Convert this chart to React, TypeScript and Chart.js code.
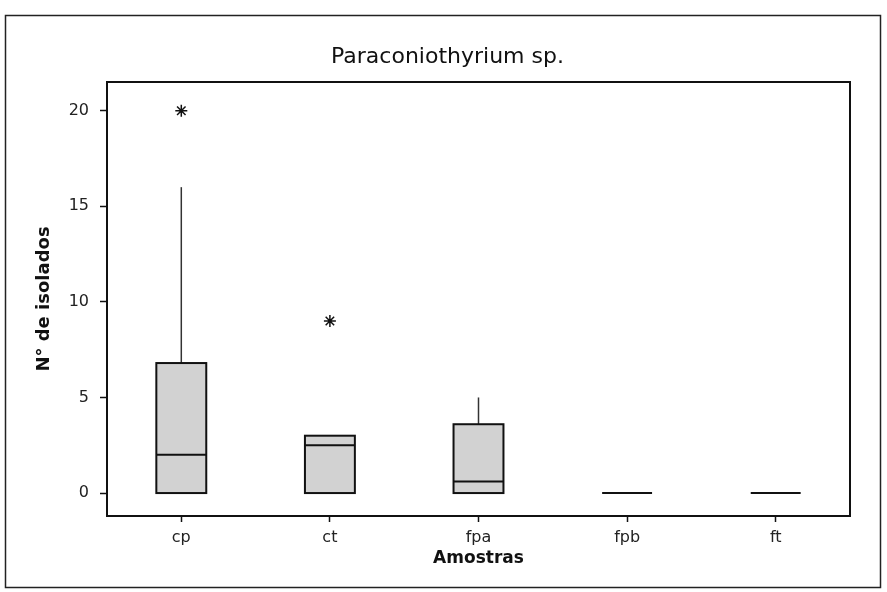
import React, { useEffect, useRef } from "react";
import { Chart, registerables } from "chart.js";

Chart.register(...registerables);

const categories = ["cp", "ct", "fpa", "fpb", "ft"];
const q1Values = [0, 0, 0, 0, 0];
const medianValues = [2, 2.5, 0.6, 0, 0];
const q3Values = [6.8, 3, 3.6, 0, 0];
const whiskerLow = [0, 0, 0, 0, 0];
const whiskerHigh = [16, 3, 5, 0, 0];
const outlierValues: (number | null)[] = [20, 9, null, null, null];
const yTicks = [0, 5, 10, 15, 20];
const titleText = "Paraconiothyrium sp.";

const FONT = "DejaVu Sans";

const boxPlugin = {
  id: "boxes",
  beforeDraw(chart: any) {
    const ctx = chart.ctx;
    ctx.save();
    ctx.fillStyle = "#ffffff";
    ctx.fillRect(0, 0, chart.width, chart.height);
    ctx.strokeStyle = "#222";
    ctx.lineWidth = 1.5;
    ctx.strokeRect(5.5, 15.5, 875, 572);
    ctx.fillStyle = "#111";
    ctx.font = `normal 22px "${FONT}"`;
    ctx.textAlign = "center";
    ctx.textBaseline = "middle";
    ctx.fillText(titleText, chart.width / 2 + 4, 57);
    ctx.restore();
  },
  afterDatasetsDraw(chart: any) {
    const ctx = chart.ctx;
    const xs = chart.scales.x;
    const ys = chart.scales.y;
    const step = xs.getPixelForValue(1) - xs.getPixelForValue(0);
    const half = step * 0.168;
    ctx.save();
    categories.forEach((_, i) => {
      const cx = xs.getPixelForValue(i);
      const yq1 = ys.getPixelForValue(q1Values[i]);
      const yq3 = ys.getPixelForValue(q3Values[i]);
      const ymed = ys.getPixelForValue(medianValues[i]);
      const ywl = ys.getPixelForValue(whiskerLow[i]);
      const ywh = ys.getPixelForValue(whiskerHigh[i]);
      ctx.strokeStyle = "#333";
      ctx.lineWidth = 1.5;
      if (whiskerHigh[i] > q3Values[i]) {
        ctx.beginPath();
        ctx.moveTo(cx, yq3);
        ctx.lineTo(cx, ywh);
        ctx.stroke();
      }
      if (whiskerLow[i] < q1Values[i]) {
        ctx.beginPath();
        ctx.moveTo(cx, yq1);
        ctx.lineTo(cx, ywl);
        ctx.stroke();
      }
      if (q3Values[i] > q1Values[i]) {
        ctx.fillStyle = "#d2d2d2";
        ctx.fillRect(cx - half, yq3, 2 * half, yq1 - yq3);
        ctx.strokeStyle = "#111";
        ctx.lineWidth = 2;
        ctx.strokeRect(cx - half, yq3, 2 * half, yq1 - yq3);
      }
      ctx.strokeStyle = "#111";
      ctx.lineWidth = 2;
      ctx.beginPath();
      ctx.moveTo(cx - half, ymed);
      ctx.lineTo(cx + half, ymed);
      ctx.stroke();
    });
    const a = chart.chartArea;
    ctx.strokeStyle = "#111";
    ctx.lineWidth = 2;
    ctx.strokeRect(a.left, a.top, a.right - a.left, a.bottom - a.top);
    ctx.restore();
  },
};

export default function App() {
  const ref = useRef<HTMLCanvasElement>(null);
  useEffect(() => {
    document.body.style.margin = "0";
    const chart = new Chart(ref.current!, {
      type: "line",
      data: {
        labels: categories,
        datasets: [
          {
            label: "outliers",
            data: outlierValues,
            showLine: false,
            pointStyle: "star",
            pointRadius: 6,
            borderColor: "#111",
            backgroundColor: "#111",
            pointBorderWidth: 1.5,
          },
        ],
      },
      options: {
        animation: false,
        responsive: false,
        layout: { padding: { left: 0, right: 37, top: 82, bottom: 0 } },
        plugins: {
          legend: { display: false },
          tooltip: { enabled: false },
          title: { display: false },
        },
        scales: {
          x: {
            type: "category",
            offset: true,
            afterFit: (s: any) => {
              s.height = 76;
            },
            grid: {
              display: true,
              drawOnChartArea: false,
              drawTicks: true,
              tickLength: 6,
              color: "#111",
              tickWidth: 1.5,
            },
            border: { display: true, color: "#111", width: 2 },
            ticks: { color: "#222", font: { family: FONT, size: 16 }, padding: 6 },
            title: {
              display: true,
              text: "Amostras",
              color: "#111",
              font: { family: FONT, size: 17, weight: "bold" },
              padding: { top: 0, bottom: 23 },
            },
          },
          y: {
            type: "linear",
            min: -1.2,
            max: 21.5,
            afterFit: (s: any) => {
              s.width = 107;
            },
            afterBuildTicks: (s: any) => {
              s.ticks = yTicks.map((v) => ({ value: v }));
            },
            grid: {
              display: true,
              drawOnChartArea: false,
              drawTicks: true,
              tickLength: 7,
              color: "#111",
              tickWidth: 1.5,
            },
            border: { display: true, color: "#111", width: 2 },
            ticks: { color: "#222", font: { family: FONT, size: 16 }, padding: 11 },
            title: {
              display: true,
              text: "N° de isolados",
              color: "#111",
              font: { family: FONT, size: 18, weight: "bold" },
              padding: { top: 34, bottom: 0 },
            },
          },
        },
      },
      plugins: [boxPlugin],
    });
    return () => chart.destroy();
  }, []);
  return (
    <div style={{ width: 887, height: 592 }}>
      <canvas ref={ref} width={887} height={592} style={{ display: "block" }} />
    </div>
  );
}
